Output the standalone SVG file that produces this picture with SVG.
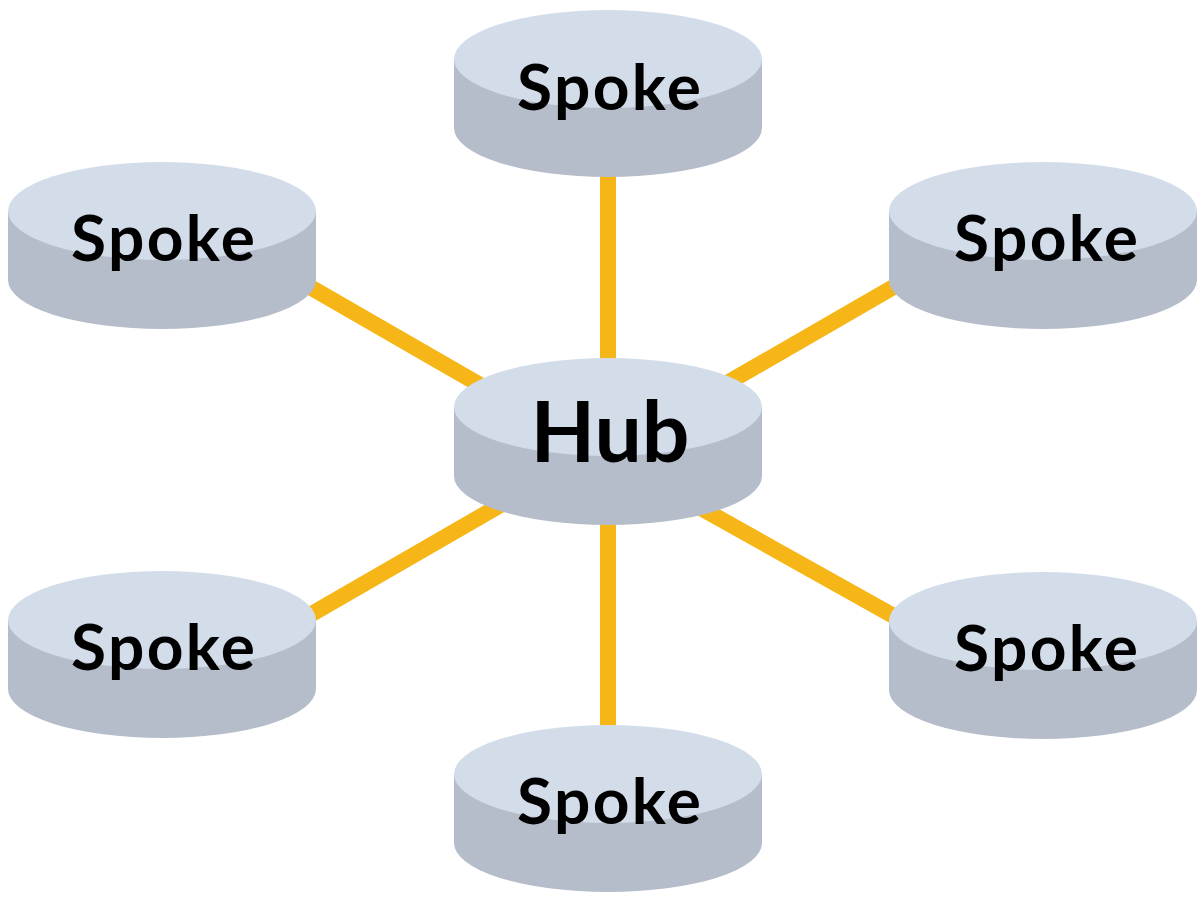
<svg xmlns="http://www.w3.org/2000/svg" xmlns:xlink="http://www.w3.org/1999/xlink" width="1203" height="898" viewBox="0 0 1203 898">
  <style>
    .side { fill: #B5BDCA; }
    .top { fill: #D3DDEA; }
    .link { stroke: #F7B617; stroke-width: 16; fill: none; }
    .lbl { font-family: "Lato", "Liberation Sans", sans-serif; font-weight: bold; fill: #000000; text-anchor: middle; }
    .spoke { font-size: 64px; }
    .hubt { font-size: 84px; }
  </style>
  <defs>
    <g id="cyl">
      <path class="side" d="M-154,0 V69 A154,49 0 0 0 154,69 V0 Z"/>
      <ellipse class="top" cx="0" cy="0" rx="154" ry="49"/>
    </g>
  </defs>
  <rect width="1203" height="898" fill="#FFFFFF"/>
  <g id="connectors">
    <line class="link" x1="608" y1="140" x2="608" y2="400"/>
    <line class="link" x1="608" y1="480" x2="608" y2="800"/>
    <line class="link" x1="250" y1="252.4" x2="560" y2="431"/>
    <line class="link" x1="250" y1="649.6" x2="560" y2="470.7"/>
    <line class="link" x1="950" y1="254.4" x2="660" y2="421.8"/>
    <line class="link" x1="950" y1="647.6" x2="650" y2="479.6"/>
  </g>
  <g id="spoke-top" transform="translate(608,59)">
    <use xlink:href="#cyl"/>
    <text class="lbl spoke" x="1" y="51" textLength="184" lengthAdjust="spacing">Spoke</text>
  </g>
  <g id="spoke-upper-left" transform="translate(162,211)">
    <use xlink:href="#cyl"/>
    <text class="lbl spoke" x="1" y="50" textLength="184" lengthAdjust="spacing">Spoke</text>
  </g>
  <g id="spoke-upper-right" transform="translate(1043,211)">
    <use xlink:href="#cyl"/>
    <text class="lbl spoke" x="3" y="50" textLength="184" lengthAdjust="spacing">Spoke</text>
  </g>
  <g id="hub" transform="translate(608,407)">
    <use xlink:href="#cyl"/>
    <text class="lbl hubt" x="2" y="55">Hub</text>
  </g>
  <g id="spoke-lower-left" transform="translate(162,620)">
    <use xlink:href="#cyl"/>
    <text class="lbl spoke" x="1" y="50" textLength="184" lengthAdjust="spacing">Spoke</text>
  </g>
  <g id="spoke-lower-right" transform="translate(1043,621)">
    <use xlink:href="#cyl"/>
    <text class="lbl spoke" x="3" y="50" textLength="184" lengthAdjust="spacing">Spoke</text>
  </g>
  <g id="spoke-bottom" transform="translate(608,774)">
    <use xlink:href="#cyl"/>
    <text class="lbl spoke" x="1" y="50" textLength="184" lengthAdjust="spacing">Spoke</text>
  </g>
</svg>
